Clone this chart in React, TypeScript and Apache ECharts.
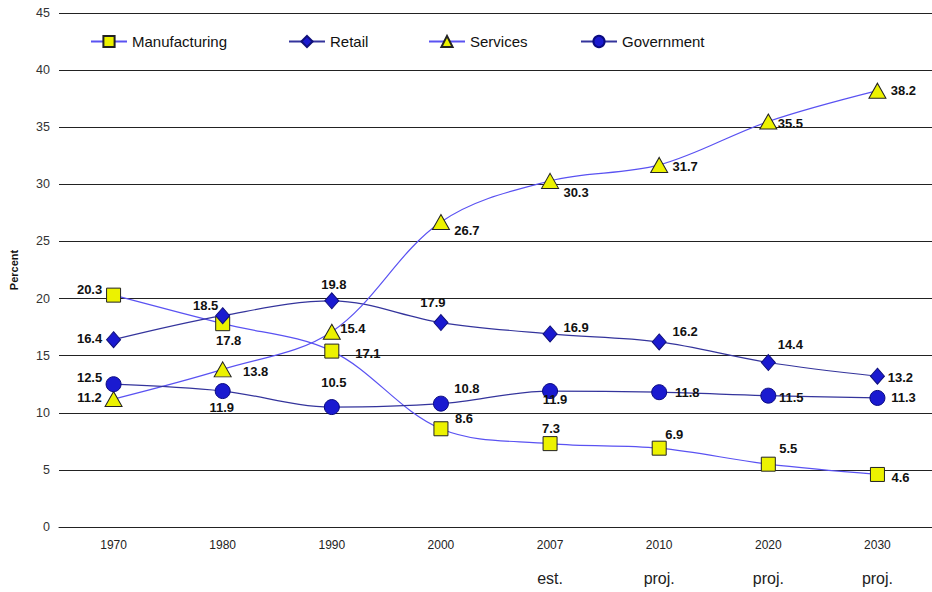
import React, { useEffect, useRef } from "react";
import * as echarts from "echarts";

const years = ["1970", "1980", "1990", "2000", "2007", "2010", "2020", "2030"];
const yearNotes = ["", "", "", "", "est.", "proj.", "proj.", "proj."];

const manufacturing = [20.3, 17.8, 15.4, 8.6, 7.3, 6.9, 5.5, 4.6];
const manufacturingLabels = ["20.3", "17.8", "17.1", "8.6", "7.3", "6.9", "5.5", "4.6"];
const retail = [16.4, 18.5, 19.8, 17.9, 16.9, 16.2, 14.4, 13.2];
const retailLabels = ["16.4", "18.5", "19.8", "17.9", "16.9", "16.2", "14.4", "13.2"];
const services = [11.2, 13.8, 17.1, 26.7, 30.3, 31.7, 35.5, 38.2];
const servicesLabels = ["11.2", "13.8", "15.4", "26.7", "30.3", "31.7", "35.5", "38.2"];
const government = [12.5, 11.9, 10.5, 10.8, 11.9, 11.8, 11.5, 11.3];
const governmentLabels = ["12.5", "11.9", "10.5", "10.8", "11.9", "11.8", "11.5", "11.3"];

// label offsets (layout only)
const mOff = [[-24, -6], [6, 17], [36, 2], [23, -10], [1, -15], [15, -14], [20, -16], [23, 3]];
const rOff = [[-24, -1], [-17, -10], [2, -16], [-8, -20], [26, -6], [26, -10], [22, -18], [23, 1]];
const sOff = [[-24, -2], [33, 2], [21, -3], [26, 8], [26, 12], [26, 2], [22, 2], [26, 0]];
const gOff = [[-24, -7], [-1, 16], [2, -25], [26, -15], [5, 8], [28, 0], [23, 2], [26, 0]];

const FONT = "Arial, 'Liberation Sans', Helvetica, sans-serif";
const YELLOW = "#ecf200";
const NAVY = "#1a1ad0";
const LIGHT_LINE = "#5a52f2";
const DARK_LINE = "#34349c";

function makeData(values: number[], labels: string[], offs: number[][]) {
  return values.map((v, i) => ({
    value: v,
    label: {
      show: true,
      position: "inside" as const,
      offset: offs[i],
      formatter: () => labels[i],
    },
  }));
}

export default function App() {
  const ref = useRef<HTMLDivElement>(null);
  useEffect(() => {
    if (!ref.current) return;
    const chart = echarts.init(ref.current, undefined, { renderer: "svg" });
    const labelStyle = {
      color: "#111",
      fontWeight: "bold" as const,
      fontSize: 13,
      fontFamily: FONT,
      align: "center" as const,
      verticalAlign: "middle" as const,
    };
    const mkSeries = (
      name: string,
      values: number[],
      labels: string[],
      offs: number[][],
      symbol: string,
      size: number | number[],
      fill: string,
      border: string,
      lineColor: string
    ) => ({
      name,
      type: "line",
      smooth: 0.35,
      data: makeData(values, labels, offs),
      symbol,
      symbolSize: size,
      showAllSymbol: true,
      lineStyle: { color: lineColor, width: 1.2 },
      itemStyle: { color: fill, borderColor: border, borderWidth: 1 },
      label: labelStyle,
      emphasis: { disabled: true },
    });
    const legendBase = {
      top: 34,
      padding: 0,
      itemWidth: 36,
      itemHeight: 14,
      itemGap: 5,
      textStyle: { fontSize: 15, color: "#111", fontFamily: FONT },
    };
    chart.setOption({
      animation: false,
      textStyle: { fontFamily: FONT },
      legend: [
        { ...legendBase, left: 90, data: ["Manufacturing"] },
        { ...legendBase, left: 288, data: ["Retail"] },
        { ...legendBase, left: 428, data: ["Services"] },
        { ...legendBase, left: 580, data: ["Government"] },
      ],
      grid: { left: 57, top: 13, width: 878, height: 514, containLabel: false },
      xAxis: {
        type: "category",
        data: years,
        boundaryGap: true,
        axisLine: { show: true, lineStyle: { color: "#222", width: 1 } },
        axisTick: { show: false },
        axisLabel: {
          margin: 8,
          interval: 0,
          formatter: (v: string, i: number) =>
            yearNotes[i] ? `{y|${v}}\n{n|${yearNotes[i]}}` : `{y|${v}}\n{n| }`,
          rich: {
            y: { fontSize: 12, color: "#222", fontFamily: FONT, lineHeight: 20 },
            n: { fontSize: 16, color: "#222", fontFamily: FONT, lineHeight: 31, verticalAlign: "bottom" },
          },
        },
      },
      yAxis: {
        type: "value",
        min: 0,
        max: 45,
        interval: 5,
        name: "Percent",
        nameLocation: "middle",
        nameGap: 40,
        nameRotate: 90,
        nameTextStyle: { fontSize: 11, fontWeight: "bold", color: "#111", fontFamily: FONT },
        axisLine: { show: false },
        axisTick: { show: false },
        axisLabel: { fontSize: 12.5, color: "#333", margin: 9, fontFamily: FONT },
        splitLine: { show: true, lineStyle: { color: "#222", width: 1 } },
      },
      series: [
        mkSeries("Manufacturing", manufacturing, manufacturingLabels, mOff, "rect", 14, YELLOW, "#222", LIGHT_LINE),
        mkSeries("Retail", retail, retailLabels, rOff, "diamond", [14, 16], NAVY, "#10107a", DARK_LINE),
        mkSeries("Services", services, servicesLabels, sOff, "triangle", [17, 15], YELLOW, "#222", LIGHT_LINE),
        mkSeries("Government", government, governmentLabels, gOff, "circle", 15, NAVY, "#0a0a80", DARK_LINE),
      ],
    });
    return () => chart.dispose();
  }, []);
  return <div ref={ref} style={{ width: 932, height: 592, position: "absolute", left: 0, top: 0 }} />;
}
